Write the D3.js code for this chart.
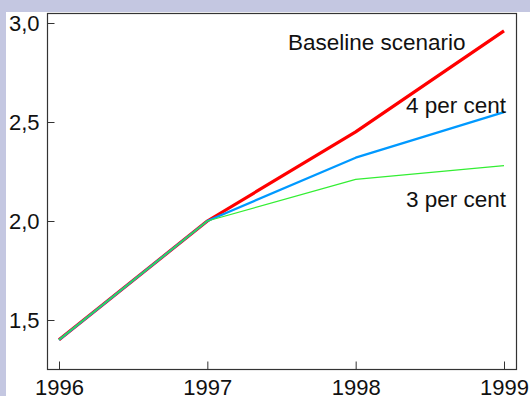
<!DOCTYPE html>
<html>
<head>
<meta charset="utf-8">
<script src="https://cdn.jsdelivr.net/npm/d3@7"></script>
<style>
  html, body { margin: 0; padding: 0; background: #c4c7e1; }
  svg { display: block; font-family: Arial, "Liberation Sans", sans-serif; }
</style>
</head>
<body>
<div id="chart"></div>
<script>
const years = [1996, 1997, 1998, 1999];
const baseline = [1.40, 2.00, 2.45, 2.96];
const fourPct = [1.40, 2.00, 2.32, 2.55];
const threePct = [1.40, 2.00, 2.21, 2.28];
const yTicks = [1.5, 2.0, 2.5, 3.0];

const svgWidth = 530, svgHeight = 396;
const frame = { left: 47, right: 516, top: 13, bottom: 369 };

const svg = d3.select('#chart')
  .append('svg')
  .attr('width', svgWidth)
  .attr('height', svgHeight);

// white panel
svg.append('rect')
  .attr('x', 6).attr('y', 12)
  .attr('width', svgWidth - 6).attr('height', svgHeight - 12)
  .attr('fill', '#fff');

const xScale = d3.scaleLinear().domain([1996, 1999]).range([59, 504]);
const yScale = d3.scaleLinear().domain([1.5, 3.0]).range([320, 23]);

// frame
svg.append('rect')
  .attr('x', frame.left + 0.5).attr('y', frame.top + 0.5)
  .attr('width', frame.right - frame.left).attr('height', frame.bottom - frame.top)
  .attr('fill', 'none')
  .attr('stroke', '#333')
  .attr('stroke-width', 1.2);

// y axis: inward ticks
const yAxis = svg.append('g')
  .attr('transform', `translate(${frame.left + 0.5},0)`)
  .call(d3.axisRight(yScale).tickValues(yTicks).tickSize(7).tickFormat(d => d3.format('.1f')(d).replace('.', ',')));
yAxis.select('.domain').remove();
yAxis.selectAll('line').attr('stroke', '#333');
yAxis.selectAll('text')
  .attr('x', -8)
  .attr('text-anchor', 'end')
  .attr('dy', '0.35em')
  .attr('font-size', 22)
  .attr('font-family', 'Arial, "Liberation Sans", sans-serif')
  .attr('fill', '#111');

// x axis: inward ticks
const xAxis = svg.append('g')
  .attr('transform', `translate(0,${frame.bottom + 0.5})`)
  .call(d3.axisTop(xScale).tickValues(years).tickSize(8).tickFormat(d3.format('d')));
xAxis.select('.domain').remove();
xAxis.selectAll('line').attr('stroke', '#333');
xAxis.selectAll('text')
  .attr('y', 25)
  .attr('dy', 0)
  .attr('text-anchor', 'middle')
  .attr('font-size', 22)
  .attr('font-family', 'Arial, "Liberation Sans", sans-serif')
  .attr('fill', '#111');

const line = d3.line()
  .x((d, i) => xScale(years[i]))
  .y(d => yScale(d));

const series = [
  { values: baseline, color: '#ff0000', width: 3.2 },
  { values: fourPct, color: '#0099ff', width: 2.2 },
  { values: threePct, color: '#33ee33', width: 1.2 }
];

svg.selectAll('path.series')
  .data(series)
  .enter()
  .append('path')
  .attr('class', 'series')
  .attr('d', d => line(d.values))
  .attr('fill', 'none')
  .attr('stroke', d => d.color)
  .attr('stroke-width', d => d.width)
  .attr('stroke-linejoin', 'round');

const labels = [
  { text: 'Baseline scenario', x: 288, y: 50 },
  { text: '4 per cent', x: 406, y: 113 },
  { text: '3 per cent', x: 406, y: 207 }
];

svg.selectAll('text.label')
  .data(labels)
  .enter()
  .append('text')
  .attr('class', 'label')
  .attr('x', d => d.x)
  .attr('y', d => d.y)
  .attr('font-size', 22.5)
  .attr('fill', '#111')
  .text(d => d.text);
</script>
</body>
</html>
